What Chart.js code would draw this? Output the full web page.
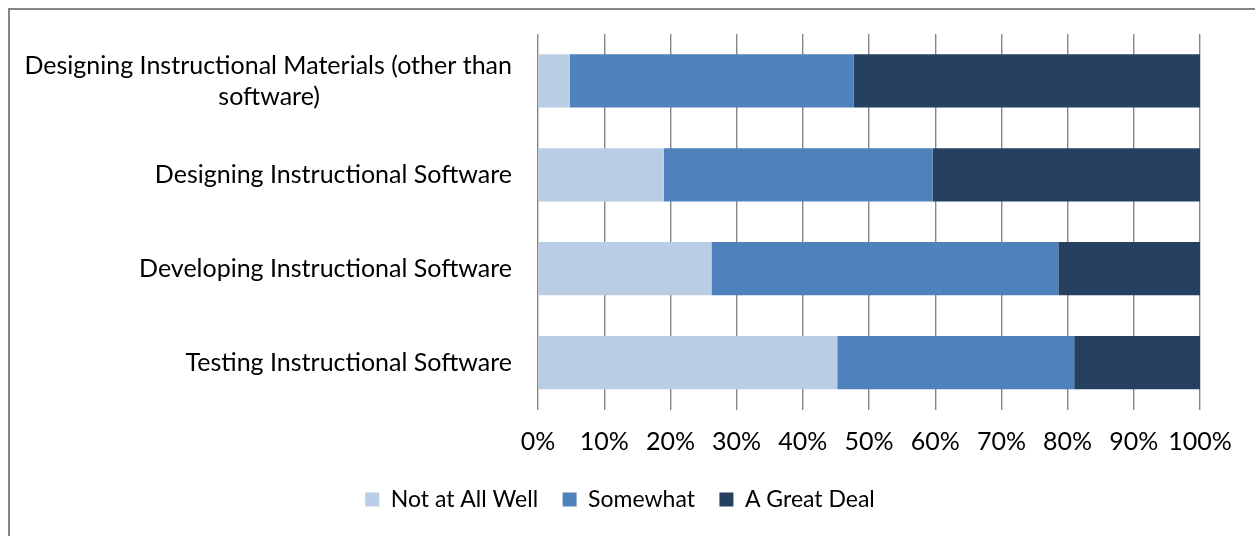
<!DOCTYPE html>
<html><head><meta charset="utf-8">
<script src="https://cdn.jsdelivr.net/npm/chart.js@4.4.1/dist/chart.umd.min.js"></script>
<style>
html,body{margin:0;padding:0;background:#fff;overflow:hidden}
#wrap{position:absolute;left:0;top:0;width:1255px;height:536px}
#frame{position:absolute;left:8px;top:8px;width:1400px;height:700px;border-left:2px solid #868686;border-top:2px solid #868686}
#c{position:absolute;left:0;top:0}
</style></head><body>
<div id="wrap"><div id="frame"></div><canvas id="c" width="1255" height="536"></canvas></div>
<script>
const categories = [
  ["Designing Instructional Materials (other than", "software)"],
  "Designing Instructional Software",
  "Developing Instructional Software",
  "Testing Instructional Software"
];
const seriesNames = ["Not at All Well", "Somewhat", "A Great Deal"];
const notAtAllWell = [4.8, 19.0, 26.2, 45.2];
const somewhat = [42.9, 40.6, 52.4, 35.8];
const aGreatDeal = [52.3, 40.4, 21.4, 19.0];
const xTicks = [0, 10, 20, 30, 40, 50, 60, 70, 80, 90, 100];
const colors = ["#B9CDE5", "#4F81BD", "#264061"];

const FONT = {family: "Lato", size: 25};
const LEGEND_FONT = {family: "Lato", size: 23};

// centre the second line of a wrapped label under the first (labels are right-aligned by Chart.js)
const mctx = document.createElement("canvas").getContext("2d");
mctx.font = FONT.size + "px " + FONT.family;
const centreLines = (l) => {
  if (!Array.isArray(l)) return l;
  const w1 = mctx.measureText(l[0]).width;
  return l.map((s) => {
    const n = Math.max(0, Math.round((w1 - mctx.measureText(s).width) / 2 / mctx.measureText(" ").width));
    return s + " ".repeat(n);
  });
};

// legend is centred on the whole chart frame (which starts at the left border), not on the canvas
const legendShift = {
  id: "legendShift",
  afterLayout(chart) { if (chart.legend) chart.legend.left += 40; }
};

new Chart(document.getElementById("c"), {
  type: "bar",
  data: {
    labels: categories.map(centreLines),
    datasets: [notAtAllWell, somewhat, aGreatDeal].map((d, i) => ({
      label: seriesNames[i],
      data: d,
      backgroundColor: colors[i],
      borderWidth: 0,
      barPercentage: 0.567,
      categoryPercentage: 1
    }))
  },
  plugins: [legendShift],
  options: {
    indexAxis: "y",
    responsive: false,
    animation: false,
    layout: {padding: {top: 34, right: 55, left: 0, bottom: 15}},
    scales: {
      x: {
        stacked: true, min: 0, max: 100,
        afterBuildTicks: (s) => { s.ticks = xTicks.map(v => ({value: v})); },
        afterFit: (s) => { s.height = 54; },
        ticks: {callback: (v) => v + "%", color: "#000", font: FONT, padding: 17, maxRotation: 0, autoSkip: false},
        grid: {color: "#868686", lineWidth: 1.4, drawTicks: false},
        border: {display: false}
      },
      y: {
        stacked: true,
        afterFit: (s) => { s.width = 538; s.paddingTop = 0; s.paddingBottom = 0; },
        ticks: {color: "#000", font: {...FONT, lineHeight: 1.24}, padding: 26},
        grid: {display: false, drawTicks: false},
        border: {display: false}
      }
    },
    plugins: {
      legend: {
        position: "bottom",
        labels: {boxWidth: 14, boxHeight: 14, color: "#000", font: LEGEND_FONT, padding: 24.5}
      },
      tooltip: {enabled: false}
    }
  }
});
</script>
</body></html>
